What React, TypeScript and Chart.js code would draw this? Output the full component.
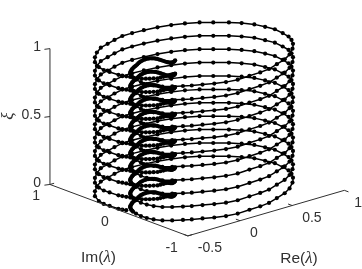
import React, { useEffect, useRef } from "react";
import { Chart, registerables } from "chart.js";

Chart.register(...registerables);

// One turn of the spectrum curve.
// turnSample is where each reading sits along the turn (a turn is 77 units long).
const turnSample = [0,0.5,1,1.5,2,2.5,3,3.5,4,4.5,5,5.5,6,6.5,7,7.5,8,8.5,9,9.5,10,10.5,11,11.5,12,12.5,13,13.5,14,14.5,15,15.5,16,16.5,17,17.5,18,18.5,19,19.5,20,20.5,21,22,23,24,25,26,27,28,29,30,31,32,33,34,35,36,37,38,39,40,41,42,43,44,45,46,47,48,49,50,51,52,53,54,55,56,57,58,59,60,61,62,63,64,65,66,67,67.5,68,68.5,69,69.5,70,70.5,71,71.5,72,72.5,73,73.5,74,74.5,75,75.5,76];
const turnRe = [0.0057,-0.006,-0.018,-0.029,-0.04,-0.044,-0.048,-0.051,-0.0543,-0.054,-0.0536,-0.053,-0.0528,-0.052,-0.0522,-0.053,-0.0543,-0.059,-0.0648,-0.071,-0.078,-0.088,-0.0983,-0.112,-0.1256,-0.143,-0.1599,-0.179,-0.1985,-0.221,-0.2442,-0.259,-0.2732,-0.291,-0.3092,-0.329,-0.3496,-0.364,-0.3779,-0.391,-0.4051,-0.412,-0.42,-0.4297,-0.4359,-0.4298,-0.4115,-0.3756,-0.3204,-0.253,-0.1961,-0.1216,-0.042,0.0446,0.1453,0.267,0.3765,0.4754,0.59,0.7047,0.8036,0.9059,0.9811,1.0317,1.0675,1.0873,1.1037,1.0886,1.0682,1.0205,0.9644,0.8827,0.8116,0.7211,0.6261,0.5227,0.4095,0.3069,0.2146,0.119,0.0286,-0.0617,-0.1503,-0.2283,-0.2958,-0.3423,-0.3554,-0.3493,-0.3415,-0.33,-0.3178,-0.306,-0.2943,-0.279,-0.2637,-0.241,-0.2191,-0.193,-0.1674,-0.14,-0.1123,-0.087,-0.0625,-0.044,-0.0249,-0.014,-0.0022];
const turnIm = [-0.0502,-0.061,-0.0719,-0.074,-0.0769,-0.069,-0.0606,-0.044,-0.0276,-0.006,0.0161,0.038,0.0598,0.081,0.1032,0.123,0.1427,0.156,0.1694,0.181,0.1918,0.198,0.2037,0.204,0.205,0.2,0.1956,0.184,0.1726,0.156,0.139,0.131,0.1234,0.11,0.0973,0.077,0.0574,0.04,0.0218,-0.006,-0.0336,-0.059,-0.0846,-0.1419,-0.2221,-0.298,-0.3695,-0.4429,-0.5012,-0.5552,-0.5968,-0.6402,-0.6898,-0.729,-0.7468,-0.7328,-0.7232,-0.7012,-0.6411,-0.5811,-0.5024,-0.39,-0.2833,-0.1854,-0.0887,0.0264,0.1647,0.2837,0.4089,0.5211,0.6206,0.7239,0.8148,0.8906,0.9455,0.9876,1.0149,1.0297,1.0319,1.0007,0.9632,0.9258,0.8485,0.7588,0.6566,0.5296,0.4387,0.3628,0.2471,0.208,0.1694,0.13,0.0914,0.058,0.0243,0.001,-0.0216,-0.039,-0.057,-0.058,-0.0587,-0.056,-0.0541,-0.054,-0.054,-0.055,-0.0551];
// ξ at the start of every turn, top to bottom
const turnXi = [1.0,0.9014,0.8028,0.7042,0.6056,0.507,0.4084,0.3098,0.2112,0.1126,0.014];
const xiPerTurn = 0.0986;
const turnLength = 77;
const lastTurnEnd = 68;

const reTicks = [-0.5, 0, 0.5, 1];
const imTicks = [1, 0, -1];
const xiTicks = [0, 0.5, 1];
const reTickLabels = ["-0.5", "0", "0.5", "1"];
const imTickLabels = ["1", "0", "-1"];
const xiTickLabels = ["0", "0.5", "1"];

const AXIS = "#303030";
const W = 362;
const H = 269;

// orthographic view of the (Re, Im, ξ) box onto the canvas plane
const view = (re: number, im: number, xi: number) => ({
  x: 170.85 + 106.7 * re - 70.5 * im,
  y: 196.85 - 31.3 * re - 26.5 * im - 140 * xi,
});

const curve: { x: number; y: number }[] = [];
turnXi.forEach((start, t) => {
  turnSample.forEach((s, i) => {
    if (t === turnXi.length - 1 && s > lastTurnEnd) return;
    curve.push(view(turnRe[i], turnIm[i], start - (xiPerTurn * s) / turnLength));
  });
});

const axisSet = (data: { x: number; y: number }[]) => ({
  data,
  showLine: true,
  borderColor: AXIS,
  borderWidth: 1,
  pointRadius: 0,
  clip: false,
});

const axes = [
  axisSet([view(-0.5, 1, 0), view(-0.5, 1, 1)]),
  axisSet([view(-0.5, 1, 0), view(-0.5, -1, 0)]),
  axisSet([view(-0.5, -1, 0), view(1, -1, 0)]),
  ...xiTicks.map((z) => axisSet([view(-0.5, 1, z), view(-0.54, 1.02, z)])),
  ...imTicks.map((m) => axisSet([view(-0.5, m, 0), view(-0.46, m, 0)])),
  ...reTicks.map((r) =>
    axisSet(r === 1 ? [view(r, -1, 0), view(r, -1.06, 0)] : [view(r, -1, 0), view(r, -0.94, 0)])
  ),
];

const textPlugin = {
  id: "boxText",
  afterDraw(chart: any) {
    const c = chart.ctx;
    const sx = chart.scales.x;
    const sy = chart.scales.y;
    c.save();
    c.fillStyle = "#303030";
    c.textBaseline = "middle";
    const sans = "14px 'Liberation Sans'";
    const at = (p: { x: number; y: number }, dx: number, dy: number) => [
      sx.getPixelForValue(p.x) + dx,
      sy.getPixelForValue(p.y) + dy,
    ];
    c.font = sans;
    c.textAlign = "right";
    xiTicks.forEach((z, i) => {
      const [x, y] = at(view(-0.5, 1, z), -9, -1.5);
      c.fillText(xiTickLabels[i], x, y);
    });
    imTicks.forEach((m, i) => {
      const [x, y] = at(view(-0.5, m, 0), -10, 12);
      c.fillText(imTickLabels[i], x, y);
    });
    c.textAlign = "left";
    reTicks.forEach((r, i) => {
      const [x, y] = at(view(r, -1, 0), 10, 12.5);
      c.fillText(reTickLabels[i], x, y);
    });

    const labelSans = "15.5px 'Liberation Sans'";
    const labelGreek = "italic 17px 'Liberation Serif'";
    const labelled = (prefix: string, cx: number, y: number) => {
      c.textAlign = "left";
      c.font = labelSans;
      const a = c.measureText(prefix).width;
      const close = c.measureText(")").width;
      c.font = labelGreek;
      const l = c.measureText("λ").width;
      const left = cx - (a + l + close) / 2;
      c.font = labelSans;
      c.fillText(prefix, left, y);
      c.font = labelGreek;
      c.fillText("λ", left + a, y);
      c.font = labelSans;
      c.fillText(")", left + a + l, y);
    };
    labelled("Im(", 98.5, 258);
    labelled("Re(", 299, 259);

    c.translate(9, 116);
    c.rotate(-Math.PI / 2);
    c.font = "italic 17px 'Liberation Serif'";
    c.textAlign = "center";
    c.fillText("ξ", 0, 0);
    c.restore();
  },
};

export default function App() {
  const ref = useRef<HTMLCanvasElement>(null);
  useEffect(() => {
    const chart = new Chart(ref.current as HTMLCanvasElement, {
      type: "scatter",
      data: {
        datasets: [
          ...axes,
          {
            data: curve,
            showLine: true,
            borderColor: "#000000",
            borderWidth: 1.5,
            backgroundColor: "#000000",
            pointBackgroundColor: "#000000",
            pointBorderWidth: 0,
            pointRadius: 2.1,
            clip: false,
          },
        ] as any,
      },
      options: {
        animation: false,
        responsive: false,
        layout: { padding: 0 },
        plugins: { legend: { display: false }, tooltip: { enabled: false } },
        scales: {
          x: { type: "linear", display: false, min: 0, max: W },
          y: { type: "linear", display: false, min: 0, max: H, reverse: true },
        },
      },
      plugins: [textPlugin],
    });
    return () => chart.destroy();
  }, []);
  return (
    <div style={{ position: "absolute", left: 0, top: 0, width: W, height: H, background: "#fff" }}>
      <canvas ref={ref} width={W} height={H} style={{ display: "block" }} />
    </div>
  );
}
